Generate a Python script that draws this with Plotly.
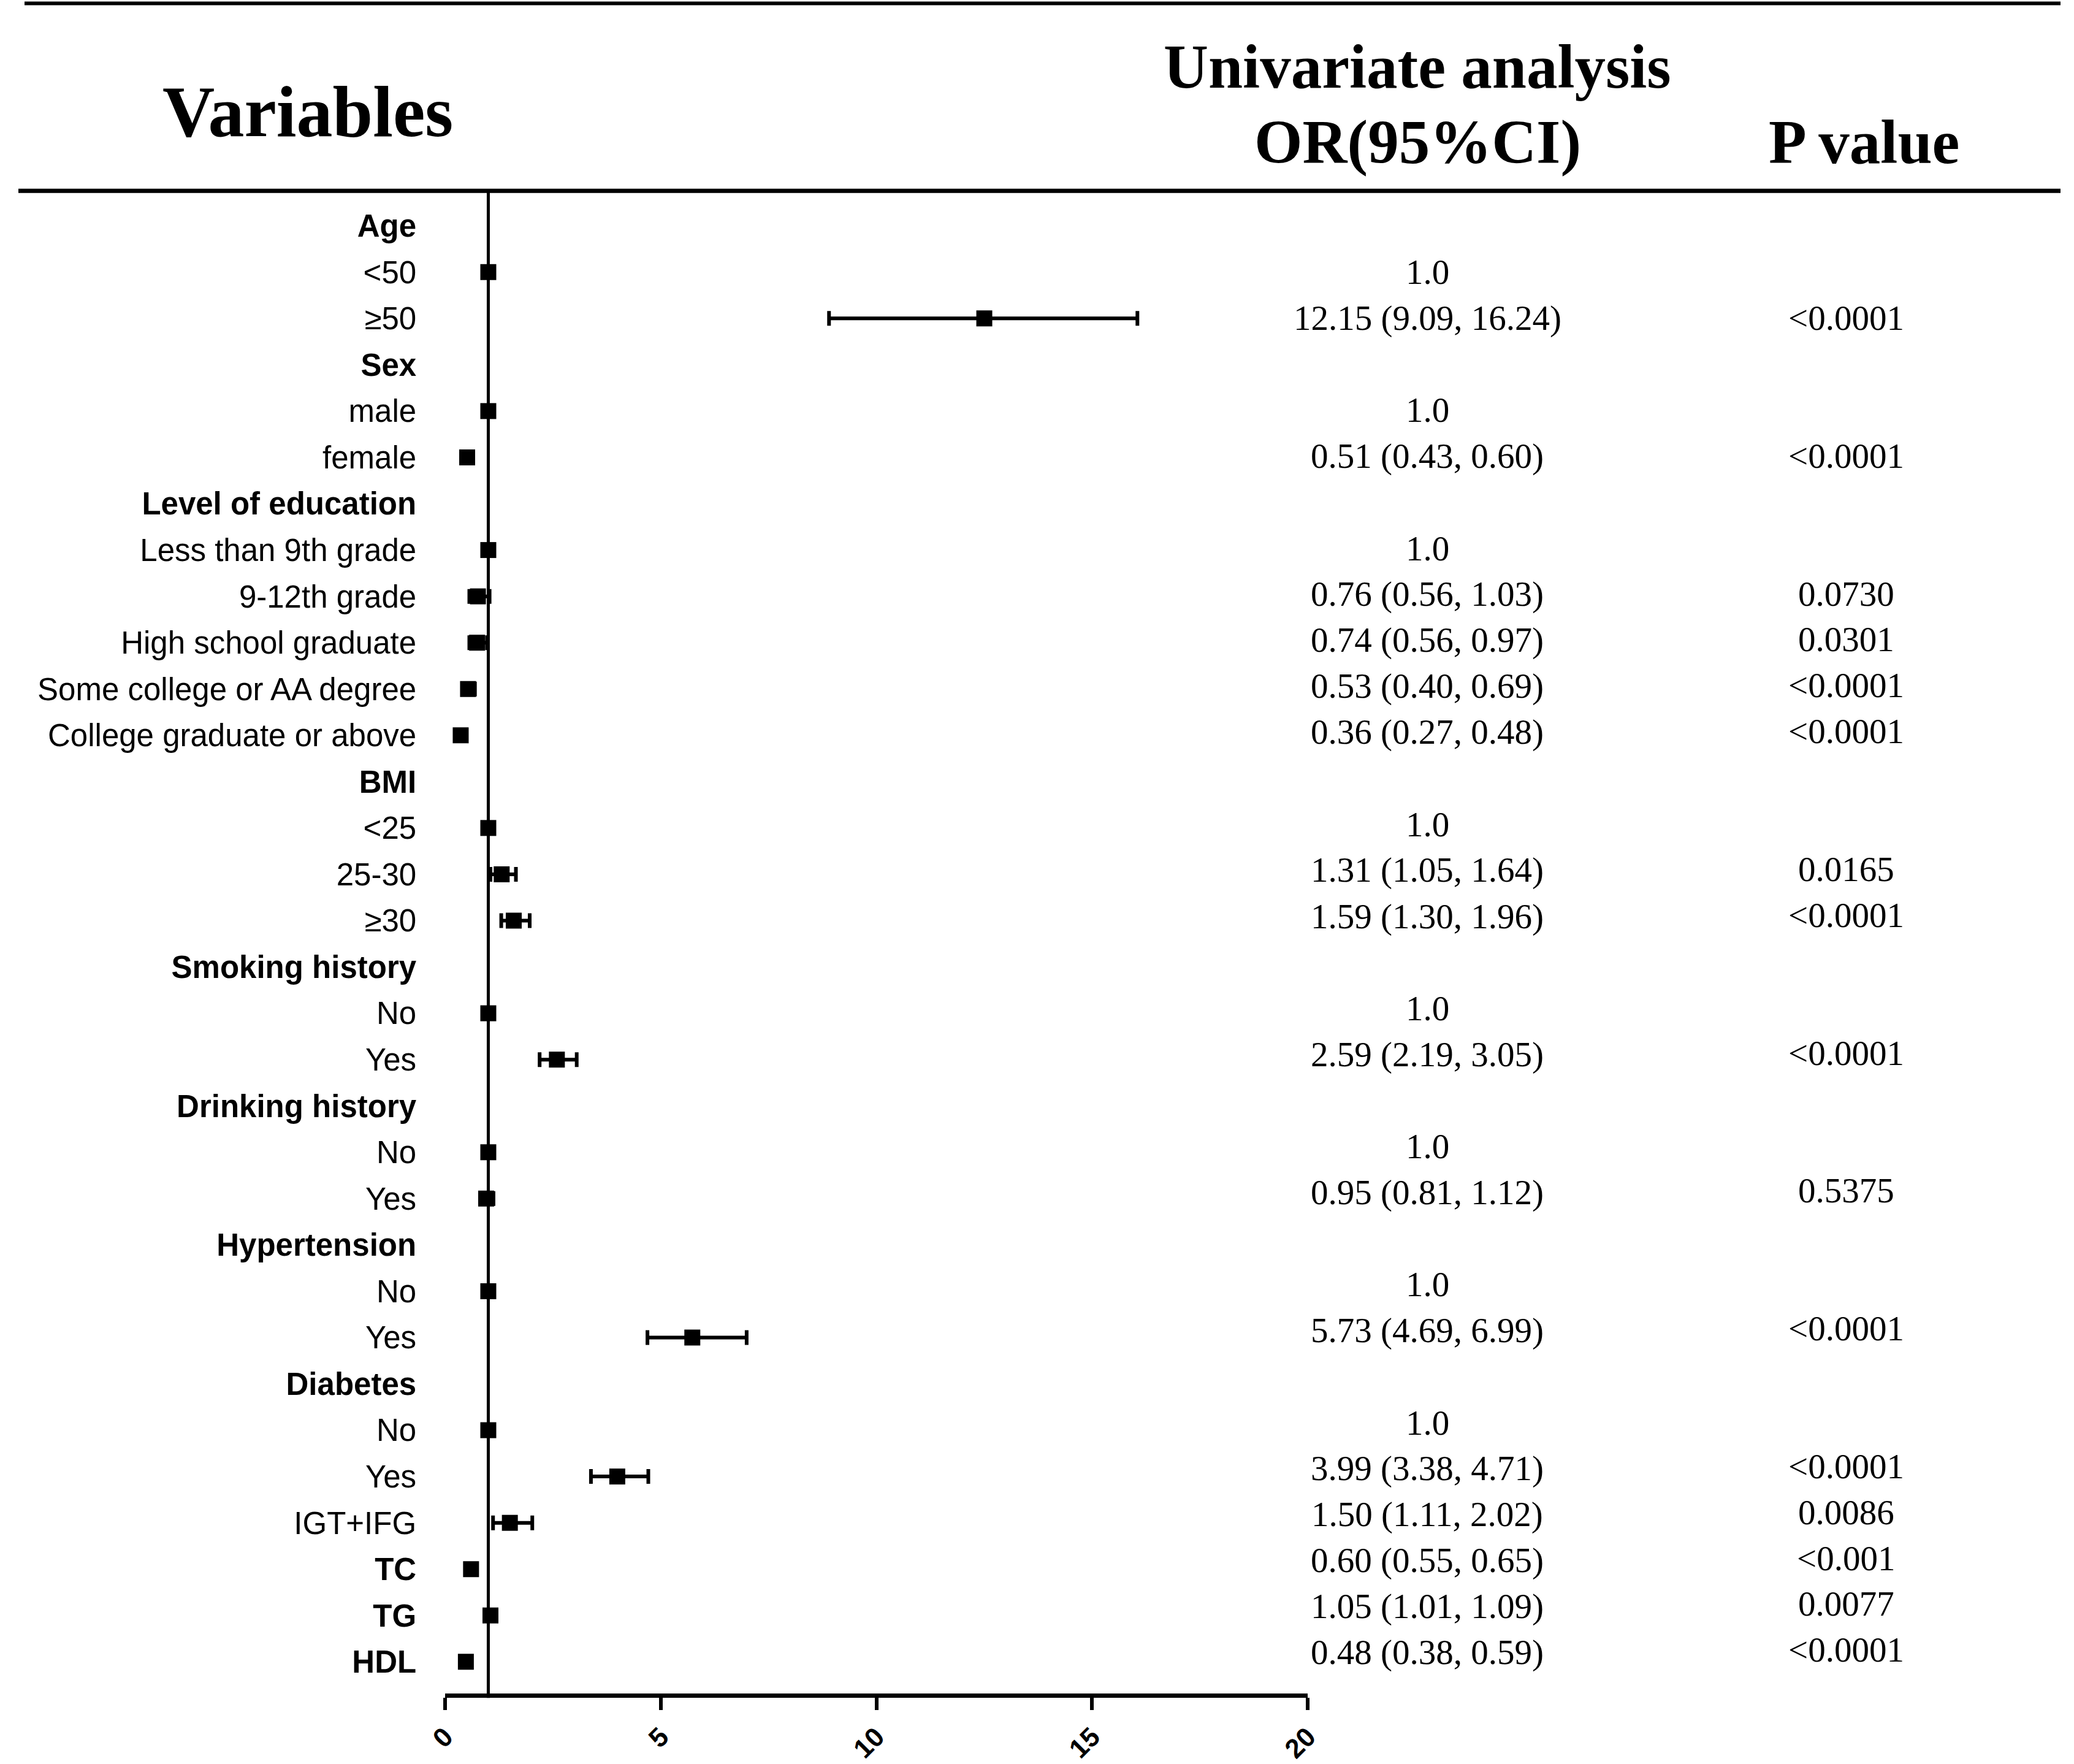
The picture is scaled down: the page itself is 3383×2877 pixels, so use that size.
import plotly.graph_objects as go

# ---------------- data ----------------
labels = ["Age", "<50", "≥50", "Sex", "male", "female", "Level of education",
          "Less than 9th grade", "9-12th grade", "High school graduate",
          "Some college or AA degree", "College graduate or above", "BMI", "<25",
          "25-30", "≥30", "Smoking history", "No", "Yes", "Drinking history", "No",
          "Yes", "Hypertension", "No", "Yes", "Diabetes", "No", "Yes", "IGT+IFG",
          "TC", "TG", "HDL"]
bold_rows = ["Age", "Sex", "Level of education", "BMI", "Smoking history",
             "Drinking history", "Hypertension", "Diabetes", "TC", "TG", "HDL"]

# odds ratios and CI as drawn by the marks (None = header row)
or_val = [None, 1.0, 12.5, None, 1.0, 0.51, None, 1.0, 0.76, 0.74, 0.53, 0.36,
          None, 1.0, 1.31, 1.59, None, 1.0, 2.59, None, 1.0, 0.95, None, 1.0, 5.73,
          None, 1.0, 3.99, 1.50, 0.60, 1.05, 0.48]
ci_low = [None, None, 8.9, None, None, 0.43, None, None, 0.56, 0.56, 0.40, 0.27,
          None, None, 1.05, 1.30, None, None, 2.19, None, None, 0.81, None, None, 4.69,
          None, None, 3.38, 1.11, 0.55, 1.01, 0.38]
ci_high = [None, None, 16.05, None, None, 0.60, None, None, 1.03, 0.97, 0.69, 0.48,
           None, None, 1.64, 1.96, None, None, 3.05, None, None, 1.12, None, None, 6.99,
           None, None, 4.71, 2.02, 0.65, 1.09, 0.59]

or_text = ["", "1.0", "12.15 (9.09, 16.24)", "", "1.0", "0.51 (0.43, 0.60)", "",
           "1.0", "0.76 (0.56, 1.03)", "0.74 (0.56, 0.97)", "0.53 (0.40, 0.69)",
           "0.36 (0.27, 0.48)", "", "1.0", "1.31 (1.05, 1.64)", "1.59 (1.30, 1.96)", "",
           "1.0", "2.59 (2.19, 3.05)", "", "1.0", "0.95 (0.81, 1.12)", "", "1.0",
           "5.73 (4.69, 6.99)", "", "1.0", "3.99 (3.38, 4.71)", "1.50 (1.11, 2.02)",
           "0.60 (0.55, 0.65)", "1.05 (1.01, 1.09)", "0.48 (0.38, 0.59)"]
p_text = ["", "", "<0.0001", "", "", "<0.0001", "", "", "0.0730", "0.0301", "<0.0001",
          "<0.0001", "", "", "0.0165", "<0.0001", "", "", "<0.0001", "", "", "0.5375",
          "", "", "<0.0001", "", "", "<0.0001", "0.0086", "<0.001", "0.0077", "<0.0001"]

x_ticks = [0, 5, 10, 15, 20]

# ---------------- figure ----------------
W, H = 3383, 2877
rows = list(range(1, len(labels) + 1))

px, py, ep, em = [], [], [], []
for r, v, lo, hi in zip(rows, or_val, ci_low, ci_high):
    if v is None:
        continue
    px.append(v)
    py.append(r)
    ep.append((hi - v) if hi is not None else 0)
    em.append((v - lo) if lo is not None else 0)

fig = go.Figure()
fig.add_trace(go.Scatter(
    x=px, y=py, mode="markers",
    marker=dict(symbol="square", size=26, color="black"),
    error_x=dict(type="data", array=ep, arrayminus=em, symmetric=False,
                 color="black", thickness=6, width=12),
    showlegend=False, hoverinfo="skip"))

ticktext = [f"<b>{l}</b>" if l in bold_rows else l for l in labels]

serif = "Liberation Serif"
sans = "Liberation Sans"

annotations = []
for r, t1, t2 in zip(rows, or_text, p_text):
    if t1:
        annotations.append(dict(x=2334 / W, xref="paper", y=r, yref="y", text=t1,
                                showarrow=False, xanchor="center", yanchor="middle",
                                yshift=0.5 * (r - 2),
                                font=dict(family=serif, size=57, color="black")))
    if t2:
        annotations.append(dict(x=3028 / W, xref="paper", y=r, yref="y", text=t2,
                                showarrow=False, xanchor="center", yanchor="middle",
                                yshift=0.65 * (r - 2),
                                font=dict(family=serif, size=57, color="black")))

headers = [("Variables", 479, 182.5, 118),
           ("Univariate analysis", 2318, 109, 101),
           ("OR(95%CI)", 2318, 232, 101),
           ("P value", 3058, 232, 101)]
for txt, hx, hy, fs in headers:
    annotations.append(dict(x=hx / W, xref="paper", y=1 - hy / H, yref="paper",
                            text=txt, showarrow=False, xanchor="center",
                            yanchor="middle",
                            font=dict(family=serif, size=fs, color="black",
                                      weight="bold")))

shapes = [
    dict(type="line", xref="paper", yref="paper", x0=0.003, x1=1,
         y0=1 - 5.5 / H, y1=1 - 5.5 / H, line=dict(color="black", width=6)),
    dict(type="line", xref="paper", yref="paper", x0=0, x1=1,
         y0=1 - 312 / H, y1=1 - 312 / H, line=dict(color="black", width=7)),
    dict(type="line", xref="x", yref="paper", x0=1, x1=1,
         y0=1 - 2775 / H, y1=1 - 312 / H, line=dict(color="black", width=5)),
]

fig.update_layout(
    width=W, height=H, autosize=False,
    margin=dict(l=0, r=0, t=0, b=0, pad=0),
    paper_bgcolor="white", plot_bgcolor="white",
    showlegend=False,
    xaxis=dict(domain=[707 / W, 2136 / W], range=[0, 20], tickvals=x_ticks,
               ticktext=[str(t) for t in x_ticks], tickangle=-45,
               showline=True, linecolor="black", linewidth=7,
               ticks="outside", ticklen=20, tickwidth=6, tickcolor="black",
               showgrid=False, zeroline=False,
               tickfont=dict(family=sans, size=44, color="black", weight="bold")),
    yaxis=dict(domain=[1 - 2768 / H, 1 - 312 / H], range=[32.687, 0.247],
               tickvals=rows, ticktext=ticktext, ticks="", showline=False,
               showgrid=False, zeroline=False, ticklabelstandoff=46,
               tickfont=dict(family=sans, size=51, color="black")),
    annotations=annotations,
    shapes=shapes,
)

fig.write_html(
    "out.html",
    config={"displayModeBar": False},
    post_script=("document.body.style.margin='0';"
                 "document.body.style.padding='0';"
                 "document.documentElement.style.overflow='hidden';"),
)
